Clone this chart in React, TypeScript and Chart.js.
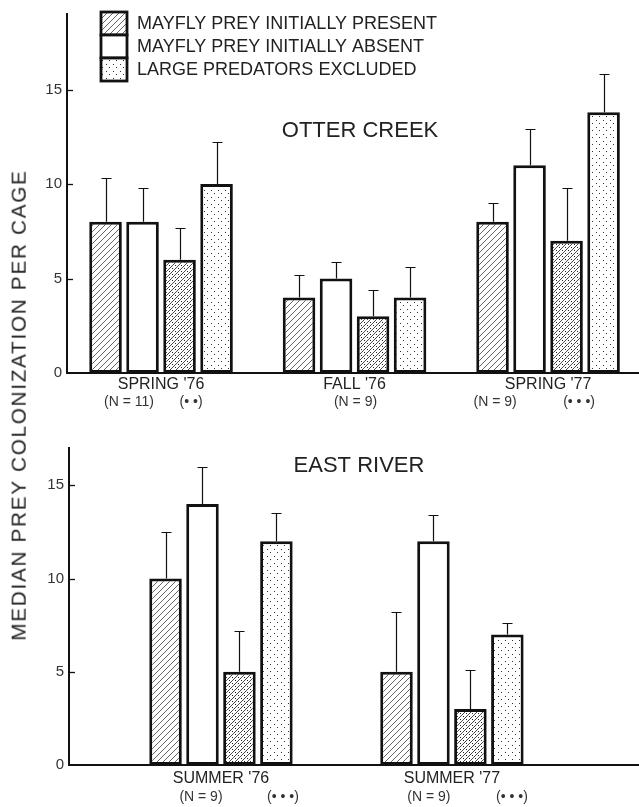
import React, { useEffect, useRef } from "react";
import { Chart, registerables } from "chart.js";
Chart.register(...registerables);

// ---------- DATA ----------
const LEGEND_LABELS = [
  "MAYFLY PREY INITIALLY PRESENT",
  "MAYFLY PREY INITIALLY ABSENT",
  "LARGE PREDATORS EXCLUDED",
];
const SERIES_LABELS = [
  "Mayfly prey initially present",
  "Mayfly prey initially absent",
  "Present, large predators excluded",
  "Absent, large predators excluded",
];
const Y_TICKS = [0, 5, 10, 15];
const Y_LABEL = "MEDIAN PREY COLONIZATION PER CAGE";

const OTTER_TITLE = "OTTER CREEK";
const OTTER_GROUPS = ["SPRING '76", "FALL '76", "SPRING '77"];
const OTTER_N = ["(N = 11)", "(N = 9)", "(N = 9)"];
const OTTER_SIG = ["(• •)", "", "(• • •)"];
const OTTER_PRESENT = [8, 4, 8];
const OTTER_PRESENT_ERR = [10.3, 5.2, 9.0];
const OTTER_ABSENT = [8, 5, 11];
const OTTER_ABSENT_ERR = [9.8, 5.9, 12.9];
const OTTER_PRESENT_EXCL = [6, 3, 7];
const OTTER_PRESENT_EXCL_ERR = [7.7, 4.4, 9.8];
const OTTER_ABSENT_EXCL = [10, 4, 13.8];
const OTTER_ABSENT_EXCL_ERR = [12.2, 5.6, 15.8];

const EAST_TITLE = "EAST RIVER";
const EAST_GROUPS = ["SUMMER '76", "SUMMER '77"];
const EAST_N = ["(N = 9)", "(N = 9)"];
const EAST_SIG = ["(• • •)", "(• • •)"];
const EAST_PRESENT = [10, 5];
const EAST_PRESENT_ERR = [12.5, 8.2];
const EAST_ABSENT = [14, 12];
const EAST_ABSENT_ERR = [16.0, 13.4];
const EAST_PRESENT_EXCL = [5, 3];
const EAST_PRESENT_EXCL_ERR = [7.2, 5.1];
const EAST_ABSENT_EXCL = [12, 7];
const EAST_ABSENT_EXCL_ERR = [13.5, 7.6];

// ---------- STYLE ----------
const INK = "#111";
const TEXT = "#222";
const FONT = "'Liberation Sans', Arial, Helvetica, sans-serif";

function makePattern(kind: string): CanvasPattern | string {
  const c = document.createElement("canvas");
  const s = kind === "dots" ? 7 : 6;
  c.width = s;
  c.height = s;
  const g = c.getContext("2d")!;
  g.fillStyle = "#fff";
  g.fillRect(0, 0, s, s);
  if (kind === "hatch" || kind === "hatchdots") {
    g.strokeStyle = kind === "hatch" ? "#555" : "#333";
    g.lineWidth = 0.9;
    g.beginPath();
    g.moveTo(0, s);
    g.lineTo(s, 0);
    g.moveTo(-s, s);
    g.lineTo(s, -s);
    g.moveTo(0, 2 * s);
    g.lineTo(2 * s, 0);
    g.stroke();
  }
  if (kind === "hatchdots") {
    g.fillStyle = "#222";
    g.fillRect(1, 1, 1, 1);
    g.fillRect(4, 4, 1, 1);
  }
  if (kind === "dots") {
    g.fillStyle = "#333";
    g.fillRect(1, 1, 1, 1);
    g.fillRect(4, 4, 1, 1);
  }
  return g.createPattern(c, "repeat")!;
}

type Spec = {
  title: string;
  titleX: number;
  titleY: number;
  groups: string[];
  notesN: string[];
  notesSig: string[];
  nDx: number[];
  sigDx: number[];
  series: number[][];
  errors: number[][];
  yMax: number;
  xMin: number;
  xMax: number;
  catPct: number;
  axisLeft: number;
  top: number;
  xAxisH: number;
  labelPad: number;
  noteY: number;
  legend: boolean;
};

function buildChart(canvas: HTMLCanvasElement, spec: Spec) {
  const fills = [
    makePattern("hatch"),
    "#ffffff",
    makePattern("hatchdots"),
    makePattern("dots"),
  ];
  const legendFills = [fills[0], fills[1], fills[3]];

  const plugins: any[] = [
    {
      id: "errorBars",
      afterDatasetsDraw(chart: any) {
        const ctx = chart.ctx;
        const ys = chart.scales.y;
        ctx.save();
        ctx.strokeStyle = INK;
        ctx.lineWidth = 1.2;
        chart.data.datasets.forEach((_: any, i: number) => {
          const meta = chart.getDatasetMeta(i);
          meta.data.forEach((el: any, j: number) => {
            const x = Math.round(el.x) + 0.5;
            const y0 = el.y;
            const y1 = Math.round(ys.getPixelForValue(spec.errors[i][j])) + 0.5;
            ctx.beginPath();
            ctx.moveTo(x, y0);
            ctx.lineTo(x, y1);
            ctx.moveTo(x - 5, y1);
            ctx.lineTo(x + 5, y1);
            ctx.stroke();
          });
        });
        ctx.restore();
      },
    },
    {
      id: "innerTicks",
      afterDraw(chart: any) {
        const ctx = chart.ctx;
        const ys = chart.scales.y;
        const left = chart.chartArea.left;
        ctx.save();
        ctx.strokeStyle = INK;
        ctx.lineWidth = 1.3;
        ys.ticks.forEach((t: any) => {
          if (t.value <= 0) return;
          const y = Math.round(ys.getPixelForValue(t.value)) + 0.5;
          ctx.beginPath();
          ctx.moveTo(left, y);
          ctx.lineTo(left + 6, y);
          ctx.stroke();
        });
        ctx.restore();
      },
    },
    {
      id: "titleAndNotes",
      afterDraw(chart: any) {
        const ctx = chart.ctx;
        const xs = chart.scales.x;
        ctx.save();
        ctx.fillStyle = TEXT;
        ctx.textAlign = "center";
        ctx.textBaseline = "middle";
        ctx.font = `22px ${FONT}`;
        ctx.fillText(spec.title, spec.titleX, spec.titleY);
        ctx.font = `14px ${FONT}`;
        ctx.fillStyle = "#333";
        spec.groups.forEach((_, i) => {
          const cx = xs.getPixelForValue(i + 1);
          if (spec.notesN[i]) ctx.fillText(spec.notesN[i], cx + spec.nDx[i], spec.noteY);
          if (spec.notesSig[i]) ctx.fillText(spec.notesSig[i], cx + spec.sigDx[i], spec.noteY);
        });
        ctx.restore();
      },
    },
  ];

  if (spec.legend) {
    plugins.push({
      id: "customLegend",
      afterDraw(chart: any) {
        const ctx = chart.ctx;
        const bx = 101, by = 12, bw = 26, bh = 23;
        ctx.save();
        LEGEND_LABELS.forEach((lab, i) => {
          const y = by + i * bh;
          ctx.fillStyle = legendFills[i] as any;
          ctx.fillRect(bx, y, bw, bh);
          ctx.strokeStyle = INK;
          ctx.lineWidth = 2.8;
          ctx.strokeRect(bx, y, bw, bh);
          ctx.fillStyle = TEXT;
          ctx.font = `18px ${FONT}`;
          ctx.textAlign = "left";
          ctx.textBaseline = "middle";
          ctx.fillText(lab, 137, y + bh / 2 + 0.5);
        });
        ctx.restore();
      },
    });
  }

  return new Chart(canvas, {
    type: "bar",
    data: {
      datasets: spec.series.map((vals, i) => ({
        label: SERIES_LABELS[i],
        data: vals.map((v, j) => ({ x: j + 1, y: v })),
        backgroundColor: fills[i] as any,
        borderColor: INK,
        borderWidth: 3,
        borderSkipped: false,
        categoryPercentage: spec.catPct,
        barPercentage: 0.88,
      })),
    },
    options: {
      responsive: false,
      animation: false,
      devicePixelRatio: 1,
      layout: { padding: { left: 0, right: 0, top: spec.top, bottom: 0 } },
      plugins: {
        legend: { display: false },
        tooltip: { enabled: false },
        title: { display: false },
      },
      scales: {
        x: {
          type: "linear",
          offset: false,
          min: spec.xMin,
          max: spec.xMax,
          afterBuildTicks: (s: any) => {
            s.ticks = spec.groups.map((_, i) => ({ value: i + 1 }));
          },
          afterFit: (s: any) => {
            s.height = spec.xAxisH;
          },
          grid: { display: false, drawTicks: false, offset: false },
          border: { display: true, color: INK, width: 2 },
          ticks: {
            autoSkip: false,
            maxRotation: 0,
            padding: spec.labelPad,
            color: TEXT,
            font: { family: FONT, size: 16 },
            callback: (v: any) => spec.groups[Math.round(Number(v)) - 1] ?? "",
          },
        },
        y: {
          type: "linear",
          min: 0,
          max: spec.yMax,
          afterBuildTicks: (s: any) => {
            s.ticks = Y_TICKS.map((v) => ({ value: v }));
          },
          afterFit: (s: any) => {
            s.width = spec.axisLeft;
          },
          grid: { display: false, drawTicks: false },
          border: { display: true, color: INK, width: 2 },
          ticks: {
            padding: 5,
            color: "#333",
            font: { family: FONT, size: 15 },
          },
        },
      },
    },
    plugins,
  } as any);
}

export default function App() {
  const topRef = useRef<HTMLCanvasElement>(null);
  const botRef = useRef<HTMLCanvasElement>(null);

  useEffect(() => {
    const top = buildChart(topRef.current!, {
      title: OTTER_TITLE,
      titleX: 360,
      titleY: 131,
      groups: OTTER_GROUPS,
      notesN: OTTER_N,
      notesSig: OTTER_SIG,
      nDx: [-32, 1, -53],
      sigDx: [30, 0, 31],
      series: [OTTER_PRESENT, OTTER_ABSENT, OTTER_PRESENT_EXCL, OTTER_ABSENT_EXCL],
      errors: [OTTER_PRESENT_ERR, OTTER_ABSENT_ERR, OTTER_PRESENT_EXCL_ERR, OTTER_ABSENT_EXCL_ERR],
      yMax: 19,
      xMin: 0.514,
      xMax: 3.47,
      catPct: 0.765,
      axisLeft: 67,
      top: 13,
      xAxisH: 42,
      labelPad: 2,
      noteY: 402,
      legend: true,
    });
    const bot = buildChart(botRef.current!, {
      title: EAST_TITLE,
      titleX: 359,
      titleY: 51,
      groups: EAST_GROUPS,
      notesN: EAST_N,
      notesSig: EAST_SIG,
      nDx: [-20, -23],
      sigDx: [62, 60],
      series: [EAST_PRESENT, EAST_ABSENT, EAST_PRESENT_EXCL, EAST_ABSENT_EXCL],
      errors: [EAST_PRESENT_ERR, EAST_ABSENT_ERR, EAST_PRESENT_EXCL_ERR, EAST_ABSENT_EXCL_ERR],
      yMax: 17,
      xMin: 0.342,
      xMax: 2.81,
      catPct: 0.64,
      axisLeft: 69,
      top: 33,
      xAxisH: 42,
      labelPad: 4,
      noteY: 382,
      legend: false,
    });
    return () => {
      top.destroy();
      bot.destroy();
    };
  }, []);

  return (
    <div
      style={{
        position: "absolute",
        left: 0,
        top: 0,
        width: 639,
        height: 807,
        background: "#fff",
        overflow: "hidden",
      }}
    >
      <canvas
        ref={topRef}
        width={639}
        height={415}
        style={{ position: "absolute", left: 0, top: 0, width: 639, height: 415 }}
      />
      <canvas
        ref={botRef}
        width={639}
        height={392}
        style={{ position: "absolute", left: 0, top: 415, width: 639, height: 392 }}
      />
      <div
        style={{
          position: "absolute",
          left: 20,
          top: 405,
          transform: "translate(-50%, -50%) rotate(-90deg) scale(1.15, 1.08)",
          whiteSpace: "nowrap",
          fontFamily: FONT,
          fontSize: 18,
          letterSpacing: 1.5,
          color: TEXT,
        }}
      >
        {Y_LABEL}
      </div>
    </div>
  );
}
